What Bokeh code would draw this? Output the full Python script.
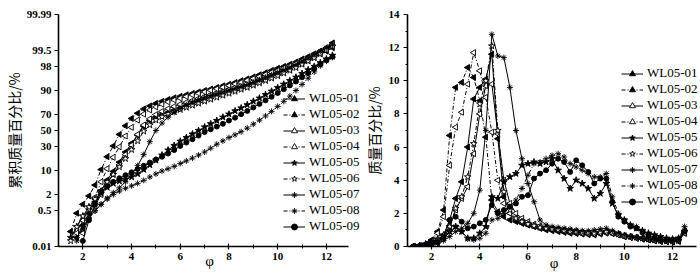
import math
import numpy as np
from statistics import NormalDist
from bokeh.plotting import figure
from bokeh.layouts import row
from bokeh.models import (ColumnDataSource, Legend, LegendItem, FixedTicker,
                          CustomJSTickFormatter)
from bokeh.embed import file_html
from bokeh.resources import INLINE

# ---------------- data ----------------
SAMPLES = ["WL05-01", "WL05-02", "WL05-03", "WL05-04", "WL05-05",
           "WL05-06", "WL05-07", "WL05-08", "WL05-09"]

PHI = [1.25, 1.5, 1.75, 2.0, 2.25, 2.5, 2.75, 3.0, 3.25, 3.5,
       3.75, 4.0, 4.25, 4.5, 4.75, 5.0, 5.25, 5.5, 5.75, 6.0,
       6.25, 6.5, 6.75, 7.0, 7.25, 7.5, 7.75, 8.0, 8.25, 8.5,
       8.75, 9.0, 9.25, 9.5, 9.75, 10.0, 10.25, 10.5, 10.75, 11.0,
       11.25, 11.5, 11.75, 12.0, 12.25, 12.5]

# cumulative mass percentage (%), None = below 0.01 % / not plotted
CUM_01 = [None, None, 0.03, 0.12, 0.4, 1.1, 2.7, 5.6, 9.5, 15.5,
          24.5, 34.0, 44.0, 55.5, 62.5, 66.5, 69.5, 72.0, 74.5, 76.7,
          78.7, 80.5, 82.2, 83.8, 85.3, 86.7, 88.0, 89.2, 90.3, 91.3,
          92.3, 93.2, 94.1, 94.9, 95.7, 96.4, 97.0, 97.5, 98.0, 98.4,
          98.75, 99.05, 99.3, 99.45, 99.6, None]
CUM_02 = [None, 0.06, 0.4, 0.9, 1.8, 4.0, 10.5, 20.0, 31.0, 45.0,
          56.0, 65.0, 71.0, 75.5, 78.5, 80.8, 82.5, 84.0, 85.3, 86.4,
          87.4, 88.3, 89.2, 90.0, 90.8, 91.6, 92.4, 93.1, 93.8, 94.5,
          95.1, 95.7, 96.3, 96.8, 97.3, 97.7, 98.0, 98.3, 98.6, 98.9,
          99.1, 99.3, 99.45, 99.6, 99.75, None]
CUM_03 = [None, None, None, 0.05, 0.25, 0.8, 2.0, 4.5, 8.0, 13.5,
          22.0, 32.0, 45.0, 57.0, 64.5, 69.5, 73.0, 75.8, 78.0, 80.0,
          81.7, 83.3, 84.8, 86.2, 87.5, 88.7, 89.8, 90.8, 91.7, 92.6,
          93.4, 94.2, 95.0, 95.7, 96.3, 96.9, 97.4, 97.9, 98.3, 98.7,
          99.0, 99.25, 99.45, 99.6, 99.7, None]
CUM_04 = [None, None, 0.05, 0.2, 0.6, 1.6, 5.0, 11.0, 19.5, 30.0,
          43.0, 54.0, 63.0, 70.0, 74.5, 77.5, 80.0, 82.0, 83.6, 85.0,
          86.2, 87.3, 88.3, 89.2, 90.1, 90.9, 91.7, 92.5, 93.2, 93.9,
          94.6, 95.2, 95.8, 96.4, 96.9, 97.3, 97.7, 98.1, 98.4, 98.7,
          98.95, 99.2, 99.4, 99.55, 99.7, None]
CUM_05 = [None, 0.03, 0.1, 0.3, 0.7, 1.3, 2.2, 3.4, 4.5, 5.2,
          5.9, 6.8, 8.2, 10.5, 13.5, 17.0, 21.5, 26.5, 31.5, 36.5,
          41.0, 45.5, 50.0, 54.5, 58.5, 62.5, 66.5, 70.0, 73.5, 76.5,
          79.5, 82.5, 85.0, 87.5, 89.6, 91.5, 93.1, 94.5, 95.6, 96.6,
          97.4, 98.0, 98.5, 98.9, 99.2, None]
CUM_06 = [None, 0.02, 0.1, 0.3, 0.7, 1.4, 2.6, 4.9, 7.9, 12.1,
          18.3, 26.9, 36.9, 49.0, 57.0, 63.0, 67.0, 70.0, 72.5, 74.8,
          77.0, 79.0, 80.8, 82.5, 84.1, 85.6, 87.0, 88.3, 89.5, 90.6,
          91.6, 92.6, 93.6, 94.5, 95.3, 96.0, 96.7, 97.3, 97.8, 98.3,
          98.7, 99.0, 99.3, 99.5, 99.65, None]
CUM_07 = [None, None, 0.03, 0.1, 0.25, 0.5, 0.9, 1.5, 2.3, 3.3,
          5.0, 8.0, 13.0, 22.0, 36.0, 50.0, 59.5, 66.5, 72.0, 76.0,
          79.5, 82.0, 84.0, 85.7, 87.0, 88.2, 89.3, 90.3, 91.2, 92.1,
          93.0, 93.9, 94.8, 95.6, 96.3, 96.9, 97.4, 97.9, 98.3, 98.7,
          99.0, 99.25, 99.45, 99.6, 99.7, None]
CUM_08 = [None, None, 0.02, 0.08, 0.25, 0.5, 0.9, 1.4, 2.0, 2.6,
          3.2, 3.8, 4.5, 5.5, 6.8, 8.2, 9.7, 11.0, 12.5, 14.5,
          16.5, 18.8, 21.5, 24.5, 28.5, 33.0, 37.0, 41.0, 44.5, 48.5,
          53.0, 58.0, 63.0, 68.0, 73.0, 78.0, 82.5, 86.5, 90.0, 93.0,
          95.3, 97.0, 98.1, 98.7, 99.05, None]
CUM_09 = [None, None, None, 0.02, 0.2, 0.9, 2.4, 3.7, 5.0, 6.3,
          7.6, 9.0, 10.8, 12.9, 15.2, 17.6, 20.0, 23.0, 26.5, 31.0,
          35.0, 39.0, 43.5, 48.0, 51.5, 55.0, 58.5, 62.5, 66.0, 70.0,
          73.5, 77.0, 80.3, 83.3, 86.0, 88.5, 90.7, 92.6, 94.2, 95.6,
          96.7, 97.6, 98.3, 98.8, 99.1, None]

# mass percentage per class (%)
FREQ_01 = [0.0, 0.0, 0.05, 0.1, 0.3, 0.7, 1.6, 2.9, 3.9, 6.0,
           8.9, 9.6, 10.1, 11.6, 6.5, 3.0, 2.0, 1.6, 1.4, 1.3,
           1.2, 1.1, 1.05, 1.0, 0.95, 0.9, 0.85, 0.8, 0.78, 0.75,
           0.75, 0.8, 0.85, 0.8, 0.7, 0.6, 0.55, 0.5, 0.45, 0.4,
           0.35, 0.3, 0.3, 0.28, 0.3, 0.9]
FREQ_02 = [0.0, 0.05, 0.15, 0.4, 0.9, 2.2, 6.7, 9.6, 9.9, 10.8,
           10.2, 8.8, 6.6, 2.8, 2.1, 1.8, 1.6, 1.5, 1.4, 1.3,
           1.2, 1.1, 1.0, 0.95, 0.9, 0.85, 0.8, 0.78, 0.75, 0.72,
           0.7, 0.75, 0.8, 0.78, 0.7, 0.6, 0.55, 0.5, 0.45, 0.4,
           0.35, 0.32, 0.3, 0.3, 0.35, 0.8]
FREQ_03 = [0.0, 0.0, 0.05, 0.1, 0.2, 0.5, 1.2, 2.2, 2.9, 3.6,
           5.6, 8.0, 9.7, 9.8, 6.8, 4.0, 2.6, 2.0, 1.7, 1.5,
           1.35, 1.25, 1.15, 1.1, 1.05, 1.0, 0.95, 0.9, 0.85, 0.8,
           0.8, 0.85, 0.9, 0.85, 0.75, 0.65, 0.6, 0.55, 0.5, 0.45,
           0.4, 0.35, 0.33, 0.32, 0.35, 0.9]
FREQ_04 = [0.0, 0.05, 0.1, 0.3, 0.8, 1.8, 4.9, 7.2, 8.1, 9.8,
           11.7, 10.6, 9.0, 6.9, 4.0, 2.6, 2.0, 1.7, 1.5, 1.35,
           1.25, 1.15, 1.1, 1.05, 1.0, 0.95, 0.9, 0.85, 0.8, 0.78,
           0.75, 0.8, 0.85, 0.8, 0.7, 0.6, 0.55, 0.5, 0.45, 0.4,
           0.36, 0.33, 0.3, 0.3, 0.34, 0.8]
FREQ_05 = [0.0, 0.05, 0.15, 0.3, 0.45, 0.6, 0.9, 1.2, 0.9, 0.5,
           0.5, 0.8, 1.2, 3.0, 2.9, 3.9, 4.2, 4.4, 4.9, 5.0,
           5.1, 5.0, 5.1, 5.3, 4.6, 4.1, 3.5, 4.0, 3.8, 3.5,
           2.9, 3.2, 3.8, 2.6, 1.9, 1.6, 1.3, 1.1, 0.95, 0.8,
           0.7, 0.6, 0.5, 0.45, 0.5, 0.9]
FREQ_06 = [0.0, 0.02, 0.08, 0.2, 0.4, 0.7, 1.2, 2.3, 3.0, 4.2,
           6.2, 8.6, 10.0, 12.1, 7.0, 3.3, 2.2, 1.7, 1.5, 1.35,
           1.25, 1.15, 1.1, 1.05, 1.0, 0.95, 0.9, 0.88, 0.85, 0.82,
           0.8, 0.85, 0.9, 0.85, 0.75, 0.65, 0.6, 0.55, 0.5, 0.45,
           0.4, 0.36, 0.33, 0.32, 0.35, 0.9]
FREQ_07 = [0.0, 0.0, 0.05, 0.1, 0.2, 0.35, 0.6, 0.9, 1.1, 1.4,
           2.0, 3.4, 7.0, 12.8, 11.5, 11.4, 9.6, 7.0, 5.3, 3.8,
           2.7, 1.6, 1.3, 1.2, 1.15, 1.1, 1.05, 1.0, 0.95, 0.95,
           1.0, 1.05, 1.1, 0.95, 0.8, 0.7, 0.6, 0.55, 0.5, 0.45,
           0.4, 0.35, 0.33, 0.32, 0.35, 1.0]
FREQ_08 = [0.0, 0.03, 0.1, 0.2, 0.35, 0.5, 0.9, 1.2, 0.9, 0.45,
           0.4, 0.5, 0.8, 1.6, 1.7, 2.0, 2.4, 2.8, 3.5, 4.3,
           5.0, 5.1, 5.3, 5.5, 5.6, 5.4, 5.0, 4.8, 4.6, 4.4,
           4.2, 4.2, 4.4, 3.0, 2.0, 1.6, 1.3, 1.2, 0.95, 0.75,
           0.6, 0.5, 0.45, 0.4, 0.45, 1.2]
FREQ_09 = [0.0, 0.02, 0.05, 0.1, 0.25, 0.6, 1.6, 1.8, 1.5, 1.1,
           1.2, 1.4, 1.6, 2.5, 2.0, 2.2, 2.4, 2.6, 3.0, 3.1,
           4.1, 4.4, 4.6, 5.0, 5.3, 5.1, 4.5, 5.2, 4.9, 4.5,
           3.8, 4.1, 4.1, 2.7, 1.8, 1.5, 1.2, 1.1, 0.85, 0.65,
           0.5, 0.45, 0.4, 0.4, 0.45, 0.9]

CUM = [CUM_01, CUM_02, CUM_03, CUM_04, CUM_05, CUM_06, CUM_07, CUM_08, CUM_09]
FREQ = [FREQ_01, FREQ_02, FREQ_03, FREQ_04, FREQ_05, FREQ_06, FREQ_07, FREQ_08, FREQ_09]

PROB_TICKS = [0.01, 0.5, 2, 10, 30, 50, 70, 90, 98, 99.5, 99.99]
PROB_TICK_LABELS = ["0.01", "0.5", "2", "10", "30", "50", "70", "90", "98", "99.5", "99.99"]
PHI_TICKS = [2, 4, 6, 8, 10, 12]
PHI_MINOR = [3, 5, 7, 9, 11]
FREQ_TICKS = [0, 2, 4, 6, 8, 10, 12, 14]
FREQ_MINOR = [1, 3, 5, 7, 9, 11, 13]

# ---------------- styles ----------------
DASHDOT = "4 2 1 2"
STYLES = [
    dict(dash="solid", marker="triangle", fill="black", size=6, angle=math.pi / 2),
    dict(dash=DASHDOT, marker="triangle", fill="black", size=6, angle=math.pi / 2),
    dict(dash="solid", marker="triangle", fill="white", size=6, angle=math.pi / 2),
    dict(dash=DASHDOT, marker="triangle", fill="white", size=6, angle=math.pi / 2),
    dict(dash="solid", marker="star", fill="black", size=7, angle=0.0),
    dict(dash=DASHDOT, marker="star", fill="white", size=7, angle=0.0),
    dict(dash="solid", marker="asterisk", fill="white", size=6, angle=0.0),
    dict(dash=DASHDOT, marker="asterisk", fill="white", size=6, angle=0.0),
    dict(dash="solid", marker="circle", fill="black", size=5, angle=0.0),
]

SERIF = "Liberation Serif"
CJK = "Noto Sans CJK SC"
ND = NormalDist()


def probit(pct):
    return ND.inv_cdf(pct / 100.0)


def style_axis(ax):
    ax.axis_line_color = "black"
    ax.axis_line_width = 1.6
    ax.major_tick_line_color = "black"
    ax.minor_tick_line_color = "black"
    ax.major_tick_line_width = 1.2
    ax.minor_tick_line_width = 1.0
    ax.major_label_text_font = SERIF
    ax.major_label_text_font_style = "bold"
    ax.major_label_text_font_size = "11px"
    ax.major_label_text_color = "black"
    ax.axis_label_text_font_style = "normal"
    ax.axis_label_text_color = "black"


def base_fig(width, x_range, y_range, ml, mr, mt, mb):
    p = figure(width=width, height=278, x_range=x_range, y_range=y_range,
               output_backend="svg", toolbar_location=None,
               min_border_left=ml, min_border_right=mr,
               min_border_top=mt, min_border_bottom=mb)
    p.outline_line_color = None
    p.grid.visible = False
    p.background_fill_color = "white"
    p.border_fill_color = "white"
    return p


def add_series(p, ys_list):
    items = []
    for name, ys, st in zip(SAMPLES, ys_list, STYLES):
        src = ColumnDataSource(dict(x=np.array(PHI, dtype=float), y=np.array(ys, dtype=float)))
        lr = p.line("x", "y", source=src, line_color="black", line_width=1.0,
                    line_dash=st["dash"])
        sr = p.scatter("x", "y", source=src, marker=st["marker"], size=st["size"],
                       angle=st["angle"], line_color="black", line_width=0.9,
                       fill_color=st["fill"])
        items.append(LegendItem(label=name, renderers=[lr, sr]))
    return items


def make_legend(items, loc):
    lg = Legend(items=items, location=loc)
    lg.background_fill_alpha = 0
    lg.border_line_alpha = 0
    lg.label_text_font = SERIF
    lg.label_text_font_size = "13px"
    lg.label_text_line_height = 0.85
    lg.label_text_color = "black"
    lg.glyph_width = 22
    lg.glyph_height = 15
    lg.label_height = 15
    lg.label_standoff = 4
    lg.spacing = 0
    lg.padding = 0
    lg.margin = 0
    return lg


# ---------------- left: cumulative probability ----------------
ylo, yhi = probit(0.01), probit(99.99)
left = base_fig(360, (1, 13.4), (ylo, yhi), 55, 0, 10, 29)
cum_y = [[probit(v) if v is not None else float("nan") for v in c] for c in CUM]
left_items = add_series(left, cum_y)

prob_pos = [probit(v) for v in PROB_TICKS]
left.yaxis.ticker = FixedTicker(ticks=prob_pos)
left.yaxis.formatter = CustomJSTickFormatter(
    args=dict(vals=prob_pos, labels=PROB_TICK_LABELS),
    code="""
    let best = 0, bd = 1e9;
    for (let i = 0; i < vals.length; i++) {
        const d = Math.abs(vals[i] - tick);
        if (d < bd) { bd = d; best = i; }
    }
    return labels[best];
    """)
left.xaxis.ticker = FixedTicker(ticks=PHI_TICKS, minor_ticks=PHI_MINOR)
left.xaxis.bounds = (1, 12.9)
for ax in (left.xaxis[0], left.yaxis[0]):
    style_axis(ax)
left.yaxis.major_tick_in = 0
left.yaxis.major_tick_out = 4
left.yaxis.minor_tick_in = 0
left.yaxis.minor_tick_out = 0
left.yaxis.major_label_standoff = 3
left.yaxis.axis_label = "累积质量百分比/%"
left.yaxis.axis_label_text_font = CJK
left.yaxis.axis_label_text_font_size = "14px"
left.yaxis.axis_label_standoff = 0
left.xaxis.major_tick_in = 3
left.xaxis.major_tick_out = 3
left.xaxis.minor_tick_in = 2
left.xaxis.minor_tick_out = 2
left.xaxis.major_label_standoff = 3
left.xaxis.axis_label = "φ"
left.xaxis.axis_label_text_font = SERIF
left.xaxis.axis_label_text_font_size = "15px"
left.xaxis.axis_label_standoff = -10
left.add_layout(make_legend(left_items, (225, 12)))

# ---------------- right: frequency ----------------
right = base_fig(340, (1, 13.16), (0, 14), 46, 0, 14, 32)
right_items = add_series(right, FREQ)
right.yaxis.ticker = FixedTicker(ticks=FREQ_TICKS, minor_ticks=FREQ_MINOR)
right.xaxis.ticker = FixedTicker(ticks=PHI_TICKS, minor_ticks=PHI_MINOR)
right.xaxis.bounds = (1, 13)
for ax in (right.xaxis[0], right.yaxis[0]):
    style_axis(ax)
right.yaxis.major_tick_in = 0
right.yaxis.major_tick_out = 4
right.yaxis.minor_tick_in = 0
right.yaxis.minor_tick_out = 2
right.yaxis.major_label_standoff = 4
right.yaxis.axis_label = "质量百分比/%"
right.yaxis.axis_label_text_font = CJK
right.yaxis.axis_label_text_font_size = "14px"
right.yaxis.axis_label_standoff = 2
right.xaxis.major_tick_in = 3
right.xaxis.major_tick_out = 3
right.xaxis.minor_tick_in = 2
right.xaxis.minor_tick_out = 2
right.xaxis.major_label_standoff = 3
right.xaxis.axis_label = "φ"
right.xaxis.axis_label_text_font = SERIF
right.xaxis.axis_label_text_font_size = "15px"
right.xaxis.axis_label_standoff = -8
right.add_layout(make_legend(right_items, (214, 37)))

layout = row(left, right)
open("out.html", "w").write(file_html(layout, INLINE))
